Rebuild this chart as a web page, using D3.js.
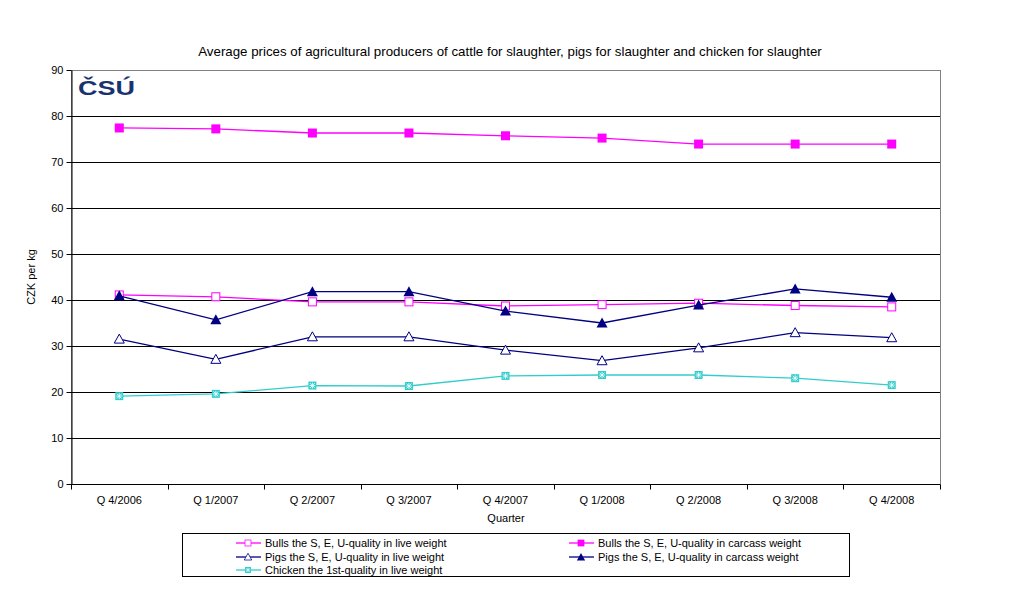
<html>
<head>
<meta charset="utf-8">
<title>Average prices</title>
<script src="https://cdn.jsdelivr.net/npm/d3@7"></script>
<style>
  body { margin: 0; background: #fff; }
  text { font-family: "Liberation Sans", Arial, sans-serif; }
</style>
</head>
<body>
<svg id="chart" width="1020" height="597"></svg>
<script>
'use strict';

// data
const quarters = ['Q 4/2006', 'Q 1/2007', 'Q 2/2007', 'Q 3/2007', 'Q 4/2007',
  'Q 1/2008', 'Q 2/2008', 'Q 3/2008', 'Q 4/2008'];
const bullsLive = [41.1, 40.7, 39.6, 39.6, 38.7, 39.0, 39.3, 38.8, 38.5];
const bullsCarcass = [77.4, 77.2, 76.3, 76.3, 75.7, 75.2, 73.9, 73.9, 73.9];
const pigsLive = [31.5, 27.1, 32.0, 32.0, 29.1, 26.8, 29.6, 32.9, 31.8];
const pigsCarcass = [40.9, 35.7, 41.8, 41.8, 37.6, 35.0, 38.9, 42.4, 40.6];
const chickenLive = [19.1, 19.6, 21.4, 21.3, 23.5, 23.7, 23.7, 23.0, 21.5];
const yTicks = [0, 10, 20, 30, 40, 50, 60, 70, 80, 90];

const series = [
  { name: 'Bulls the S, E, U-quality in live weight', values: bullsLive, color: '#ff00ff', marker: 'squareOpen' },
  { name: 'Bulls the S, E, U-quality in carcass weight', values: bullsCarcass, color: '#ff00ff', marker: 'square' },
  { name: 'Pigs the S, E, U-quality in live weight', values: pigsLive, color: '#000080', marker: 'triOpen' },
  { name: 'Pigs the S, E, U-quality in carcass weight', values: pigsCarcass, color: '#000080', marker: 'tri' },
  { name: 'Chicken the 1st-quality in live weight', values: chickenLive, color: '#33cccc', marker: 'star' }
];

const svg = d3.select('#chart');
const pLeft = 71, pRight = 940, pTop = 70, pBottom = 484;

const x = d3.scaleBand().domain(quarters).range([pLeft, pRight]);
const y = d3.scaleLinear().domain([0, 90]).range([pBottom, pTop]);

// title
svg.append('text')
  .attr('x', 510).attr('y', 56)
  .attr('text-anchor', 'middle')
  .attr('font-size', 13.3)
  .text('Average prices of agricultural producers of cattle for slaughter, pigs for slaughter and chicken for slaughter');

// plot border (grey)
svg.append('rect')
  .attr('x', pLeft + 0.5).attr('y', pTop + 0.5)
  .attr('width', pRight - pLeft).attr('height', pBottom - pTop)
  .attr('fill', 'none').attr('stroke', '#808080').attr('stroke-width', 1);

// gridlines
svg.append('g').selectAll('line')
  .data(yTicks.filter(d => d > 0 && d < 90))
  .enter().append('line')
  .attr('x1', pLeft).attr('x2', pRight)
  .attr('y1', d => Math.round(y(d)) + 0.5).attr('y2', d => Math.round(y(d)) + 0.5)
  .attr('stroke', '#000');

// y axis
const yAxis = svg.append('g')
  .attr('transform', `translate(${pLeft + 0.5},0)`)
  .call(d3.axisLeft(y).tickValues(yTicks).tickSize(5).tickSizeOuter(0).tickPadding(3));
yAxis.select('.domain').attr('stroke', '#000');
yAxis.selectAll('text').attr('font-size', 11).attr('font-family', '"Liberation Sans", Arial, sans-serif');

// x axis with ticks on band boundaries
const xAxisG = svg.append('g').attr('transform', `translate(0,${pBottom + 0.5})`);
xAxisG.append('line').attr('x1', pLeft).attr('x2', pRight).attr('stroke', '#000');
xAxisG.selectAll('.tk')
  .data(d3.range(quarters.length + 1))
  .enter().append('line')
  .attr('x1', i => Math.round(pLeft + i * x.step()) + 0.5)
  .attr('x2', i => Math.round(pLeft + i * x.step()) + 0.5)
  .attr('y1', 0).attr('y2', 5).attr('stroke', '#000');
xAxisG.selectAll('.lbl')
  .data(quarters)
  .enter().append('text')
  .attr('x', d => x(d) + x.bandwidth() / 2)
  .attr('y', 19)
  .attr('text-anchor', 'middle')
  .attr('font-size', 11)
  .text(d => d);

// axis titles
svg.append('text')
  .attr('transform', 'translate(35,277) rotate(-90)')
  .attr('text-anchor', 'middle').attr('font-size', 11)
  .text('CZK per kg');
svg.append('text')
  .attr('x', 506).attr('y', 522)
  .attr('text-anchor', 'middle').attr('font-size', 11)
  .text('Quarter');

// logo
svg.append('text')
  .attr('x', 78).attr('y', 95)
  .attr('font-size', 20).attr('font-weight', 'bold')
  .attr('font-family', '"DejaVu Sans", sans-serif')
  .attr('fill', '#1a3370')
  .attr('textLength', 57)
  .attr('lengthAdjust', 'spacingAndGlyphs')
  .text('ČSÚ');

function drawMarker(g, type, color) {
  if (type === 'squareOpen') {
    g.append('rect').attr('x', -4).attr('y', -4).attr('width', 8).attr('height', 8)
      .attr('fill', '#fff').attr('stroke', color).attr('stroke-width', 1);
  } else if (type === 'square') {
    g.append('rect').attr('x', -4.5).attr('y', -4.5).attr('width', 9).attr('height', 9)
      .attr('fill', color);
  } else if (type === 'triOpen') {
    g.append('path').attr('d', 'M0,-5L5,4L-5,4Z')
      .attr('fill', '#fff').attr('stroke', color).attr('stroke-width', 1);
  } else if (type === 'tri') {
    g.append('path').attr('d', 'M0,-5.5L5.5,4.5L-5.5,4.5Z').attr('fill', color);
  } else if (type === 'star') {
    g.append('rect').attr('x', -4).attr('y', -4).attr('width', 8).attr('height', 8)
      .attr('fill', color);
    g.append('path').attr('d', 'M-2.5,-2.5L2.5,2.5M2.5,-2.5L-2.5,2.5M0,-3L0,3M-3,0L3,0')
      .attr('stroke', '#fff').attr('stroke-width', 0.8);
  }
}

const line = d3.line()
  .x((d, i) => x(quarters[i]) + x.bandwidth() / 2)
  .y(d => y(d));

series.forEach(s => {
  svg.append('path')
    .attr('d', line(s.values))
    .attr('fill', 'none')
    .attr('stroke', s.color)
    .attr('stroke-width', 1.3);
  s.values.forEach((v, i) => {
    const g = svg.append('g')
      .attr('transform', `translate(${x(quarters[i]) + x.bandwidth() / 2},${y(v)})`);
    drawMarker(g, s.marker, s.color);
  });
});

// legend
svg.append('rect')
  .attr('x', 182.5).attr('y', 533.5).attr('width', 667).attr('height', 43)
  .attr('fill', '#fff').attr('stroke', '#000');
const legendPos = [
  [248, 543], [581, 543], [248, 557], [581, 557], [248, 570]
];
series.forEach((s, i) => {
  const [lx, ly] = legendPos[i];
  const g = svg.append('g').attr('transform', `translate(${lx},${ly})`);
  g.append('line').attr('x1', -12).attr('x2', 13).attr('stroke', s.color).attr('stroke-width', 1.3);
  const m = g.append('g').attr('transform', 'scale(0.75)');
  drawMarker(m, s.marker, s.color);
  g.append('text').attr('x', 17).attr('y', 4).attr('font-size', 11).text(s.name);
});
</script>
</body>
</html>
